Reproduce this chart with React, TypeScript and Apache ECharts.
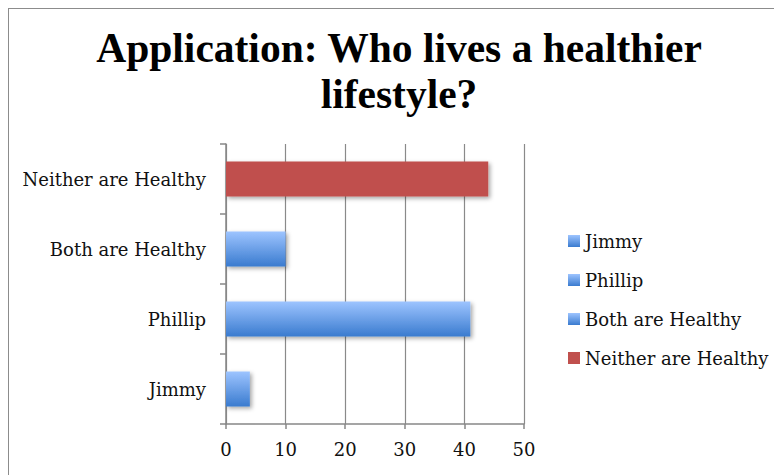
import React, { useEffect, useRef } from "react";
import * as echarts from "echarts";

// Survey answers: who lives a healthier lifestyle?
const categories = ["Jimmy", "Phillip", "Both are Healthy", "Neither are Healthy"];
const answerCounts = [4, 41, 10, 44];
const xTicks = { min: 0, max: 50, interval: 10 };

const TITLE_FONT = "'Liberation Serif', 'DejaVu Serif', serif";
const LABEL_FONT = "'DejaVu Serif', 'Liberation Serif', serif";

const blueFill = new echarts.graphic.LinearGradient(0, 0, 0, 1, [
  { offset: 0, color: "#9dc4ff" },
  { offset: 1, color: "#3a7bcf" },
]);
const redFill = "#c0504d";

export default function App() {
  const ref = useRef<HTMLDivElement>(null);

  useEffect(() => {
    if (!ref.current) return;
    const chart = echarts.init(ref.current, undefined, { renderer: "svg" });

    // One series per answer, each placed only on its own row so the legend lists all four.
    const series = categories.map((name, i) => ({
      name,
      type: "bar" as const,
      stack: "answers",
      barWidth: 35,
      data: categories.map((_, j) => (j === i ? answerCounts[i] : null)),
      itemStyle: {
        color: i === categories.length - 1 ? redFill : blueFill,
        shadowColor: "rgba(0,0,0,0.35)",
        shadowBlur: 4,
        shadowOffsetX: 2,
        shadowOffsetY: 2,
      },
    }));

    chart.setOption({
      animation: false,
      backgroundColor: "#ffffff",
      title: {
        text: "Application: Who lives a healthier\nlifestyle?",
        left: 385,
        textAlign: "center",
        top: 11,
        textStyle: {
          fontFamily: TITLE_FONT,
          fontWeight: "bold",
          fontSize: 41.5,
          lineHeight: 46,
          color: "#000000",
        },
      },
      legend: {
        orient: "vertical",
        left: 559,
        top: 222,
        padding: 0,
        itemWidth: 12,
        itemHeight: 12,
        itemGap: 19,
        itemTextGap: 8,
        icon: "rect",
        data: categories,
        textStyle: {
          fontFamily: LABEL_FONT,
          fontSize: 18,
          lineHeight: 20,
          color: "#111111",
        },
      },
      grid: { left: 217, top: 135, width: 298, height: 280, containLabel: false },
      xAxis: {
        type: "value",
        min: xTicks.min,
        max: xTicks.max,
        interval: xTicks.interval,
        axisLine: { show: true, lineStyle: { color: "#878787", width: 1.5 } },
        axisTick: { show: true, length: 5, lineStyle: { color: "#878787", width: 1.5 } },
        splitLine: { show: true, lineStyle: { color: "#8a8a8a", width: 1.2 } },
        axisLabel: {
          margin: 16,
          fontFamily: LABEL_FONT,
          fontSize: 18,
          color: "#111111",
        },
      },
      yAxis: {
        type: "category",
        data: categories,
        axisLine: { show: true, lineStyle: { color: "#878787", width: 1.5 } },
        axisTick: { show: true, length: 6, lineStyle: { color: "#878787", width: 1.5 } },
        axisLabel: {
          margin: 20,
          fontFamily: LABEL_FONT,
          fontSize: 18,
          color: "#111111",
        },
      },
      series,
    });

    return () => chart.dispose();
  }, []);

  return (
    <div
      ref={ref}
      style={{
        width: 774,
        height: 467,
        boxSizing: "border-box",
        borderTop: "1px solid #8c8c8c",
        borderLeft: "1px solid #8c8c8c",
      }}
    />
  );
}
